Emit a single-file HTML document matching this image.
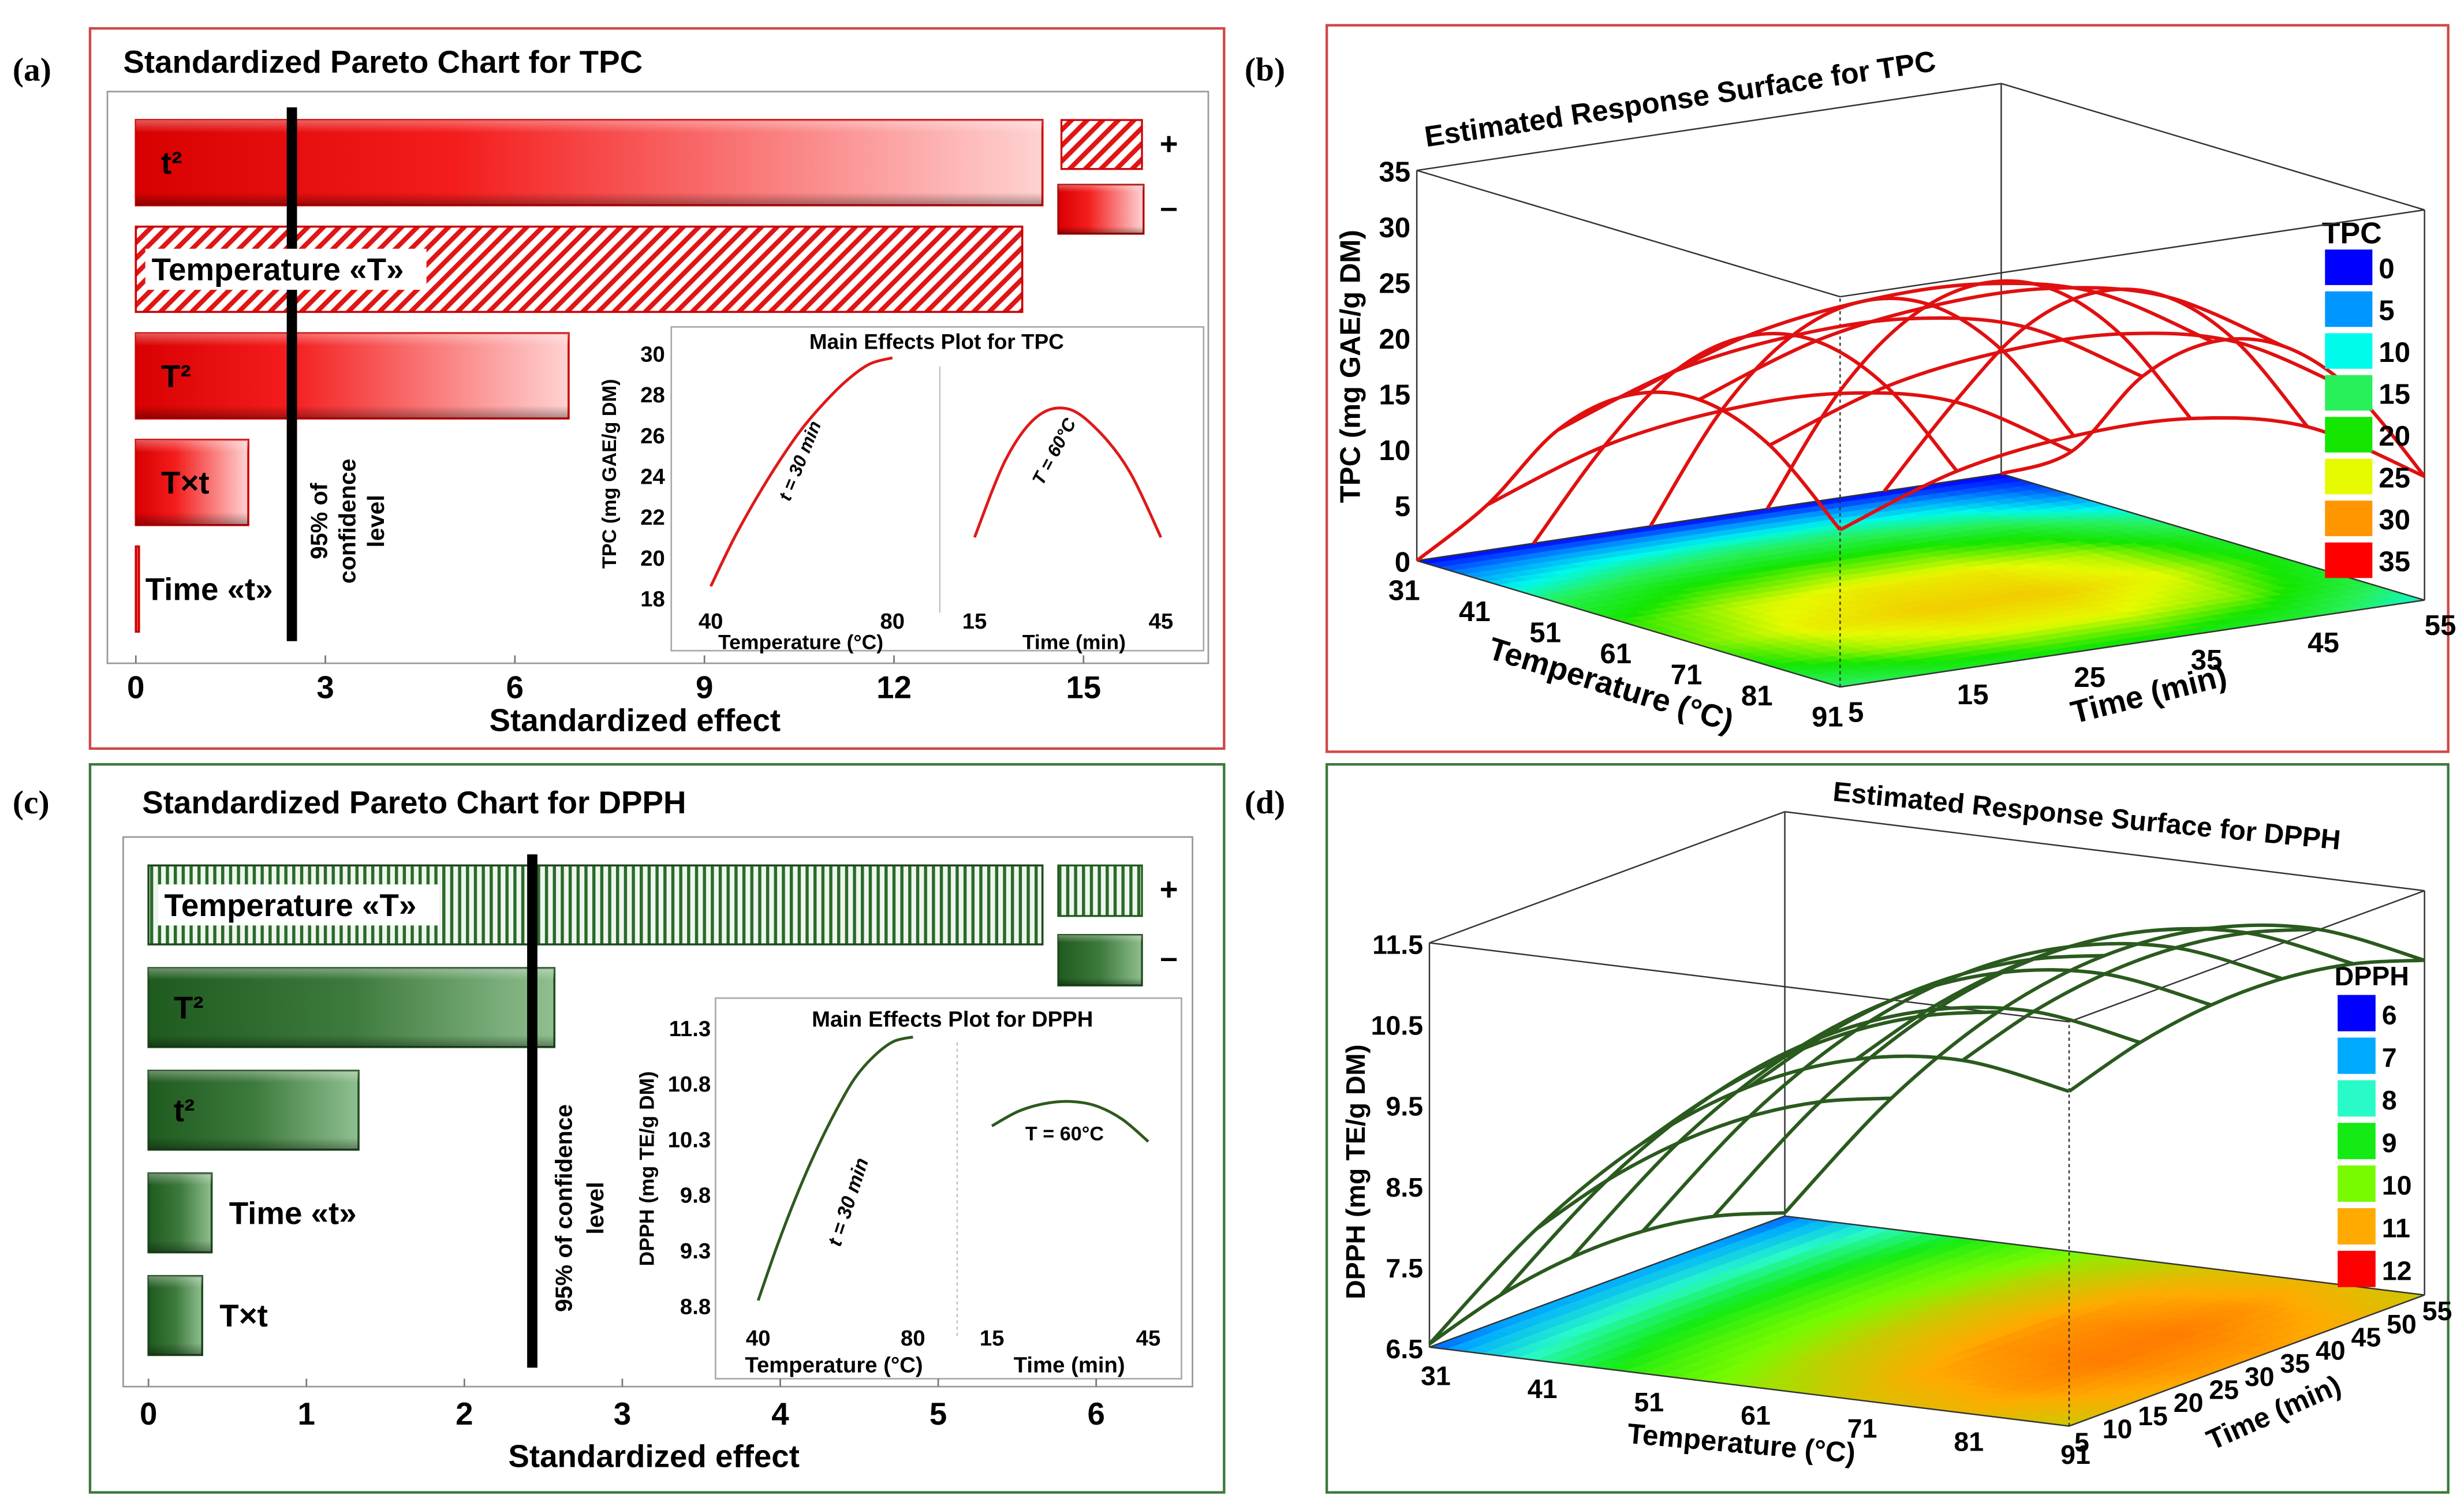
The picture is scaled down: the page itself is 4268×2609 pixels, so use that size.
<!DOCTYPE html>
<html><head><meta charset="utf-8"><style>
html,body{margin:0;padding:0;background:#fff;}
svg{display:block;font-family:"Liberation Sans",Arial,sans-serif;font-weight:bold;}
</style></head><body>
<svg id="fig" width="4268" height="2609" viewBox="0 0 1560 953.6" preserveAspectRatio="none" xmlns="http://www.w3.org/2000/svg">
<defs>
<linearGradient id="redg" x1="0" x2="1" y1="0" y2="0"><stop offset="0" stop-color="#d80000"/><stop offset="0.35" stop-color="#f41c1c"/><stop offset="1" stop-color="#ffd2d2"/></linearGradient>
<linearGradient id="greeng" x1="0" x2="1" y1="0" y2="0"><stop offset="0" stop-color="#1f5a1f"/><stop offset="0.5" stop-color="#3d7a3d"/><stop offset="1" stop-color="#8fbf8f"/></linearGradient>
<linearGradient id="shade" x1="0" x2="0" y1="0" y2="1"><stop offset="0" stop-color="#fff" stop-opacity="0.35"/><stop offset="0.15" stop-color="#fff" stop-opacity="0"/><stop offset="0.85" stop-color="#000" stop-opacity="0"/><stop offset="1" stop-color="#000" stop-opacity="0.35"/></linearGradient>
<pattern id="hatchR" width="7" height="7" patternUnits="userSpaceOnUse" patternTransform="rotate(45)"><rect width="7" height="7" fill="#fff"/><rect width="3" height="7" fill="#e01515"/></pattern>
<pattern id="hatchG" width="5" height="5" patternUnits="userSpaceOnUse"><rect width="5" height="5" fill="#eef6ee"/><rect width="2" height="5" fill="#2a6a2a"/></pattern>
</defs>

<rect x="57" y="18" width="718" height="456" fill="#fff" stroke="#d04848" stroke-width="1.6"/>
<rect x="840" y="16" width="710" height="460" fill="#fff" stroke="#d04848" stroke-width="1.6"/>
<rect x="57" y="484" width="718" height="461" fill="#fff" stroke="#3a7a3a" stroke-width="1.6"/>
<rect x="840" y="484" width="710" height="461" fill="#fff" stroke="#3a7a3a" stroke-width="1.6"/>

<text x="8" y="51" font-family="Liberation Serif" font-size="21">(a)</text>
<text x="788" y="51" font-family="Liberation Serif" font-size="21">(b)</text>
<text x="8" y="515" font-family="Liberation Serif" font-size="21">(c)</text>
<text x="788" y="515" font-family="Liberation Serif" font-size="21">(d)</text>

<text x="78" y="46" font-size="20">Standardized Pareto Chart for TPC</text>
<rect x="68" y="58" width="697" height="362" fill="none" stroke="#999" stroke-width="1"/>
<text x="402" y="463" font-size="20" text-anchor="middle">Standardized effect</text>
<rect x="672" y="76" width="51" height="31" fill="url(#hatchR)" stroke="#c00" stroke-width="1.2"/>
<text x="740" y="98" font-size="20" text-anchor="middle">+</text>
<rect x="670" y="117" width="54" height="31" fill="url(#redg)" stroke="#a00" stroke-width="1.2"/>
<rect x="670" y="117" width="54" height="31" fill="url(#shade)"/>
<text x="740" y="138" font-size="20" text-anchor="middle">–</text>
<g font-size="15" text-anchor="middle" transform="translate(225,330) rotate(-90)">
<text x="0" y="-18">95% of</text><text x="0" y="0">confidence</text><text x="0" y="18">level</text></g>

<rect x="425" y="207" width="337" height="205" fill="#fff" stroke="#aaa" stroke-width="1"/>
<text x="593" y="221" font-size="13.5" text-anchor="middle">Main Effects Plot for TPC</text>
<line x1="595" y1="232" x2="595" y2="388" stroke="#bbb" stroke-width="0.8"/>
<text transform="translate(390,300) rotate(-90)" font-size="12.5" text-anchor="middle">TPC (mg GAE/g DM)</text>
<text x="507" y="411" font-size="13" text-anchor="middle">Temperature (°C)</text>
<text x="680" y="411" font-size="13" text-anchor="middle">Time (min)</text>
<text transform="translate(500,318) rotate(-68)" font-size="11.5" font-style="italic">t = 30 min</text>
<text transform="translate(660,308) rotate(-62)" font-size="11.5" font-style="italic">T = 60°C</text>

<text x="90" y="515" font-size="20">Standardized Pareto Chart for DPPH</text>
<rect x="78" y="530" width="677" height="348" fill="none" stroke="#999" stroke-width="1"/>
<text x="414" y="929" font-size="20" text-anchor="middle">Standardized effect</text>
<rect x="670" y="548" width="53" height="32" fill="url(#hatchG)" stroke="#1f5a1f" stroke-width="1.2"/>
<text x="740" y="570" font-size="20" text-anchor="middle">+</text>
<rect x="670" y="592" width="53" height="32" fill="url(#greeng)" stroke="#1f4a1f" stroke-width="1.2"/>
<rect x="670" y="592" width="53" height="32" fill="url(#shade)"/>
<text x="740" y="613" font-size="20" text-anchor="middle">–</text>
<g font-size="15" text-anchor="middle" transform="translate(370,765) rotate(-90)">
<text x="0" y="-8">95% of confidence</text><text x="0" y="12">level</text></g>

<rect x="453" y="632" width="295" height="241" fill="#fff" stroke="#aaa" stroke-width="1"/>
<text x="603" y="650" font-size="14" text-anchor="middle">Main Effects Plot for DPPH</text>
<line x1="606" y1="660" x2="606" y2="848" stroke="#bbb" stroke-width="0.8" stroke-dasharray="2,2"/>
<text transform="translate(414,740) rotate(-90)" font-size="13" text-anchor="middle">DPPH (mg TE/g DM)</text>
<text x="528" y="869" font-size="14" text-anchor="middle">Temperature (°C)</text>
<text x="677" y="869" font-size="14" text-anchor="middle">Time (min)</text>
<text transform="translate(532,790) rotate(-72)" font-size="12.5" font-style="italic">t = 30 min</text>
<text x="674" y="722" font-size="12.5" text-anchor="middle">T = 60°C</text>

<text transform="translate(903,93) rotate(-8.5)" font-size="18.5">Estimated Response Surface for TPC</text>
<text transform="translate(861,232) rotate(-90)" font-size="18" text-anchor="middle">TPC (mg GAE/g DM)</text>
<text transform="translate(1018,440) rotate(17)" font-size="20" text-anchor="middle">Temperature (°C)</text>
<text transform="translate(1362,446) rotate(-14)" font-size="20" text-anchor="middle">Time (min)</text>
<text x="1470" y="154" font-size="19">TPC</text>

<text transform="translate(1160,507) rotate(5.5)" font-size="17.5">Estimated Response Surface for DPPH</text>
<text transform="translate(864,742) rotate(-90)" font-size="17" text-anchor="middle">DPPH (mg TE/g DM)</text>
<text transform="translate(1102,920) rotate(5)" font-size="18" text-anchor="middle">Temperature (°C)</text>
<text transform="translate(1442,900) rotate(-24)" font-size="18" text-anchor="middle">Time (min)</text>
<text x="1478" y="624" font-size="17">DPPH</text>
</svg>
<script>
// ---------- data ----------
const paretoTpcTerms = ['t²','Temperature «T»','T²','T×t','Time «t»'];
const paretoTpcValues = [14.35,14.03,6.85,1.78,0.05];
const paretoTpcSigns = ['-','+','-','-','-'];
const paretoTpcTicks = [0,3,6,9,12,15];
const paretoTpcCritical = 2.47;

const paretoDpphTerms = ['Temperature «T»','T²','t²','Time «t»','T×t'];
const paretoDpphValues = [5.66,2.57,1.33,0.40,0.34];
const paretoDpphSigns = ['+','-','-','-','-'];
const paretoDpphTicks = [0,1,2,3,4,5,6];
const paretoDpphCritical = 2.43;

const insetTpcTemps = [40,45,50,55,60,65,70,75,80];
const insetTpcTempVals = [18.6,20.9,22.9,24.7,26.3,27.6,28.7,29.5,29.8];
const insetTpcTimes = [15,20,25,30,35,40,45];
const insetTpcTimeVals = [21.0,24.8,26.9,27.3,26.2,24.2,21.0];
const insetTpcYTicks = [18,20,22,24,26,28,30];

const insetDpphTemps = [40,45,50,55,60,65,70,75,80];
const insetDpphTempVals = [8.85,9.35,9.8,10.2,10.55,10.85,11.05,11.18,11.22];
const insetDpphTimes = [15,20,25,30,35,40,45];
const insetDpphTimeVals = [10.42,10.55,10.62,10.64,10.6,10.48,10.28];
const insetDpphYTicks = [8.8,9.3,9.8,10.3,10.8,11.3];

const surfTemps = [31,41,51,61,71,81,91];
const surfTimes = [5,15,25,35,45,55];
const tpcGrid = [
 [0,0,0,0,0,0],
 [6.9,10.6,12.2,12.2,9.9,3.9],
 [15.5,19.2,20.8,20.8,18.5,12.5],
 [20.5,24.2,25.8,25.8,23.5,17.5],
 [22.0,25.7,27.3,27.3,25.0,19.0],
 [19.8,23.5,25.1,25.1,22.8,16.8],
 [14.1,17.8,19.4,19.4,17.1,11.1]];
const dpphGrid = [
 [6.54,6.82,6.96,6.96,6.82,6.54],
 [8.12,8.40,8.54,8.54,8.40,8.12],
 [9.35,9.63,9.77,9.77,9.63,9.35],
 [10.21,10.49,10.63,10.63,10.49,10.21],
 [10.71,10.99,11.13,11.13,10.99,10.71],
 [10.86,11.14,11.28,11.28,11.14,10.86],
 [10.64,10.92,11.06,11.06,10.92,10.64]];
const tpcZTicks = [0,5,10,15,20,25,30,35];
const dpphZTicks = [6.5,7.5,8.5,9.5,10.5,11.5];
const tpcTempTicks = [31,41,51,61,71,81,91];
const tpcTimeTicks = [5,15,25,35,45,55];
const dpphTempTicks = [31,41,51,61,71,81,91];
const dpphTimeTicks = [5,10,15,20,25,30,35,40,45,50,55];
const tpcLegendLevels = [0,5,10,15,20,25,30,35];
const dpphLegendLevels = [6,7,8,9,10,11,12];

// ---------- helpers ----------
const NS='http://www.w3.org/2000/svg';
const svg=document.getElementById('fig');
function mk(tag,attrs,parent){const e=document.createElementNS(NS,tag);for(const k in attrs)e.setAttribute(k,attrs[k]);(parent||svg).appendChild(e);return e;}
function smoothPath(pts){
  if(pts.length<2)return '';
  let d='M'+pts[0][0]+','+pts[0][1];
  for(let i=0;i<pts.length-1;i++){
    const p0=pts[Math.max(i-1,0)],p1=pts[i],p2=pts[i+1],p3=pts[Math.min(i+2,pts.length-1)];
    const c1=[p1[0]+(p2[0]-p0[0])/6,p1[1]+(p2[1]-p0[1])/6],c2=[p2[0]-(p3[0]-p1[0])/6,p2[1]-(p3[1]-p1[1])/6];
    d+=' C'+c1.join(',')+' '+c2.join(',')+' '+p2.join(',');
  }
  return d;
}

// ---------- pareto bars ----------
function pareto(terms,vals,signs,ticks,crit,o){
  const x=v=>o.x0+o.k*v;
  vals.forEach((v,i)=>{
    const y=o.y0+i*o.step, w=Math.max(x(v)-o.x0,2);
    const b=mk('rect',{x:o.x0,y:y,width:w,height:o.h,fill:signs[i]==='+'?o.hatch:o.grad,stroke:o.stroke,'stroke-width':1.3});
    
    
    if(signs[i]!=='+'&&w>10){const s=mk('rect',{x:o.x0,y:y,width:w,height:o.h,fill:'url(#shade)'});
      
      }
  });
  const cl=mk('line',{x1:x(crit),x2:x(crit),y1:o.ly1,y2:o.ly2,stroke:'#000','stroke-width':6.5});
  
  
  vals.forEach((v,i)=>{
    const y=o.y0+i*o.step, w=Math.max(x(v)-o.x0,2);
    const outside=w<60;
    const tx=outside?x(v)+(o.id==='a'?4:11):o.x0+(signs[i]==='+'?10:16);
    if(signs[i]==='+'){const bg=mk('rect',{x:o.x0+6,y:y+o.h/2-13,width:178,height:26,fill:'#fff'});
      
      }
    const t=mk('text',{x:tx,y:y+o.h/2+7,'font-size':20});
    t.textContent=terms[i];
    
    
  });
  ticks.forEach(tk=>{
    const t=mk('text',{x:x(tk),y:o.ty,'font-size':20,'text-anchor':'middle'});t.textContent=tk;
    
    
    const l=mk('line',{x1:x(tk),x2:x(tk),y1:o.tickY,y2:o.tickY-5,stroke:'#777','stroke-width':1});
    
    
  });
}
pareto(paretoTpcTerms,paretoTpcValues,paretoTpcSigns,paretoTpcTicks,paretoTpcCritical,
 {id:'a',x0:86,k:40,y0:76,step:67.5,h:54,hatch:'url(#hatchR)',grad:'url(#redg)',stroke:'#c00',ly1:68,ly2:406,ty:442,tickY:420});
pareto(paretoDpphTerms,paretoDpphValues,paretoDpphSigns,paretoDpphTicks,paretoDpphCritical,
 {id:'c',x0:94,k:100,y0:548,step:65,h:50,hatch:'url(#hatchG)',grad:'url(#greeng)',stroke:'#1f4a1f',ly1:541,ly2:866,ty:902,tickY:878});

// ---------- insets ----------
function inset(o){
  const ys=v=>o.yA+(v-o.v0)*(o.yB-o.yA)/(o.v1-o.v0);
  const xl=v=>o.xl0+(v-o.tl0)*(o.xl1-o.xl0)/(o.tl1-o.tl0);
  const xr=v=>o.xr0+(v-o.tr0)*(o.xr1-o.xr0)/(o.tr1-o.tr0);
  o.yticks.forEach(tk=>{const t=mk('text',{x:o.ylx,y:ys(tk)+5,'font-size':14,'text-anchor':'end'});t.textContent=tk;
    
    });
  const p1=mk('path',{d:smoothPath(o.lx.map((v,i)=>[xl(v),ys(o.ly[i])])),fill:'none',stroke:o.col,'stroke-width':1.8});
  
  
  const p2=mk('path',{d:smoothPath(o.rx.map((v,i)=>[xr(v),ys(o.ry[i])])),fill:'none',stroke:o.col,'stroke-width':1.8});
  
  
  [[xl(o.tl0),o.tl0],[xl(o.tl1),o.tl1],[xr(o.tr0),o.tr0],[xr(o.tr1),o.tr1]].forEach(a=>{
    const t=mk('text',{x:a[0],y:o.xty,'font-size':14,'text-anchor':'middle'});t.textContent=a[1];
    
    });
}
inset({id:'tpc',col:'#e01818',v0:18,v1:30,yA:379,yB:224,ylx:421,yticks:insetTpcYTicks,
 xl0:450,xl1:565,tl0:40,tl1:80,xr0:617,xr1:735,tr0:15,tr1:45,lx:insetTpcTemps,ly:insetTpcTempVals,rx:insetTpcTimes,ry:insetTpcTimeVals,xty:398});
inset({id:'dpph',col:'#2d5a1e',v0:8.8,v1:11.3,yA:827,yB:651,ylx:450,yticks:insetDpphYTicks,
 xl0:480,xl1:578,tl0:40,tl1:80,xr0:628,xr1:727,tr0:15,tr1:45,lx:insetDpphTemps,ly:insetDpphTempVals,rx:insetDpphTimes,ry:insetDpphTimeVals,xty:852});

// ---------- surfaces ----------
function lerpCol(stops,v){
  const rgb=c=>'rgb('+c.join(',')+')';
  if(v<=stops[0][0])return rgb(stops[0][1]);
  for(let i=1;i<stops.length;i++){if(v<=stops[i][0]){const a=stops[i-1],b=stops[i],f=(v-a[0])/(b[0]-a[0]);
    return rgb([0,1,2].map(j=>Math.round(a[1][j]+(b[1][j]-a[1][j])*f)));}}
  return rgb(stops[stops.length-1][1]);
}
function surface(o){
  const T0=surfTemps[0],T1=surfTemps[surfTemps.length-1],t0=surfTimes[0],t1=surfTimes[surfTimes.length-1];
  const P=(T,t,z)=>{const u=(T-T0)/(T1-T0),v=(t-t0)/(t1-t0);
    return [o.L[0]+u*(o.F[0]-o.L[0])+v*(o.R[0]-o.F[0]), o.L[1]+u*(o.F[1]-o.L[1])+v*(o.R[1]-o.F[1])-(z-o.zmin)*o.zk];};
  const grid=o.grid;
  const interp=(T,t)=>{
    let i=Math.min(Math.floor((T-T0)/10),surfTemps.length-2), j=Math.min(Math.floor((t-t0)/10),surfTimes.length-2);
    const fu=(T-surfTemps[i])/10, fv=(t-surfTimes[j])/10;
    return grid[i][j]*(1-fu)*(1-fv)+grid[i+1][j]*fu*(1-fv)+grid[i][j+1]*(1-fu)*fv+grid[i+1][j+1]*fu*fv;};
  const g=mk('g',{});
  const N=36;
  for(let a=0;a<N;a++)for(let b=0;b<N;b++){
    const Ta=T0+(T1-T0)*a/N,Tb=T0+(T1-T0)*(a+1)/N,ta=t0+(t1-t0)*b/N,tb=t0+(t1-t0)*(b+1)/N;
    const c=lerpCol(o.stops,interp((Ta+Tb)/2,(ta+tb)/2));
    const pts=[P(Ta,ta,o.zmin),P(Tb,ta,o.zmin),P(Tb,tb,o.zmin),P(Ta,tb,o.zmin)].map(p=>p.join(',')).join(' ');
    mk('polygon',{points:pts,fill:c,stroke:c,'stroke-width':0.7},g);
  }
  const zt=o.zmax;
  const B=[o.L[0]+o.R[0]-o.F[0],o.L[1]+o.R[1]-o.F[1]];
  const corners=[o.L,o.F,o.R,B];
  const bx=mk('g',{stroke:'#333','stroke-width':0.9,fill:'none'});
  const up=p=>[p[0],p[1]-(zt-o.zmin)*o.zk];
  for(let i=0;i<4;i++){const a=corners[i],b=corners[(i+1)%4];
    mk('line',{x1:a[0],y1:a[1],x2:b[0],y2:b[1]},bx);
    mk('line',{x1:up(a)[0],y1:up(a)[1],x2:up(b)[0],y2:up(b)[1]},bx);
    mk('line',{x1:a[0],y1:a[1],x2:up(a)[0],y2:up(a)[1],'stroke-dasharray':i===1?'2,2':'none'},bx);}
  const m=mk('g',{fill:'none',stroke:o.mesh,'stroke-width':o.mw,'stroke-linejoin':'round'});
  
  for(let i=0;i<surfTemps.length;i++){
    if(grid[i].every(z=>z<=o.zmin))continue;
    const pts=surfTimes.map((t,j)=>P(surfTemps[i],t,Math.max(grid[i][j],o.zmin)));
    const pl=mk('path',{d:smoothPath(pts)},m);
    
    }
  surfTimes.forEach((t,j)=>{
    const pts=surfTemps.map((T,i)=>P(T,t,Math.max(grid[i][j],o.zmin)));
    const pl=mk('path',{d:smoothPath(pts)},m);
    
    });
  o.zticks.forEach(z=>{const p=P(T0,t0,z);const t=mk('text',{x:p[0]-4,y:p[1]+7,'font-size':o.fs,'text-anchor':'end'});t.textContent=z;
    });
  o.tempTicks.forEach(T=>{const p=P(T,t0,o.zmin);const t=mk('text',{x:p[0]+o.tOff[0],y:p[1]+o.tOff[1],'font-size':o.fs,'text-anchor':'middle'});t.textContent=T;
    });
  o.timeTicks.forEach(tm=>{const p=P(T1,tm,o.zmin);const t=mk('text',{x:p[0]+o.mOff[0],y:p[1]+o.mOff[1],'font-size':o.fs,'text-anchor':'middle'});t.textContent=tm;
    });
  o.levels.forEach((lv,k)=>{const y=o.legY+k*o.legStep;
    const r=mk('rect',{x:o.legX,y:y,width:o.legW,height:o.legStep-4,fill:lerpCol(o.stops,lv)});
    
    const t=mk('text',{x:o.legX+o.legW+4,y:y+o.legStep/2+5,'font-size':o.fs});t.textContent=lv;
    });
}
surface({id:'tpc',grid:tpcGrid,L:[897,355],F:[1165,435],R:[1535,380],zmin:0,zmax:35,zk:7.06,mesh:'#e01010',mw:2.2,
 stops:[[0,[0,0,255]],[5,[0,150,255]],[10,[0,250,235]],[15,[40,240,90]],[20,[20,230,0]],[25,[230,250,0]],[30,[255,150,0]],[35,[255,0,0]]],
 zticks:tpcZTicks,tempTicks:tpcTempTicks,timeTicks:tpcTimeTicks,tOff:[-8,25],mOff:[10,22],fs:18,
 levels:tpcLegendLevels,legX:1472,legY:158,legStep:26.5,legW:30});
surface({id:'dpph',grid:dpphGrid,L:[905,853],F:[1310,903],R:[1535,820],zmin:6.5,zmax:11.5,zk:51.2,mesh:'#2a5a1e',mw:2.2,
 stops:[[6,[0,0,255]],[7,[0,170,255]],[8,[40,250,200]],[9,[20,235,20]],[10,[120,250,0]],[11,[255,170,0]],[12,[255,0,0]]],
 zticks:dpphZTicks,tempTicks:dpphTempTicks,timeTicks:dpphTimeTicks,tOff:[4,24],mOff:[8,16],fs:17,
 levels:dpphLegendLevels,legX:1480,legY:630,legStep:27,legW:24});
</script>
</body></html>
